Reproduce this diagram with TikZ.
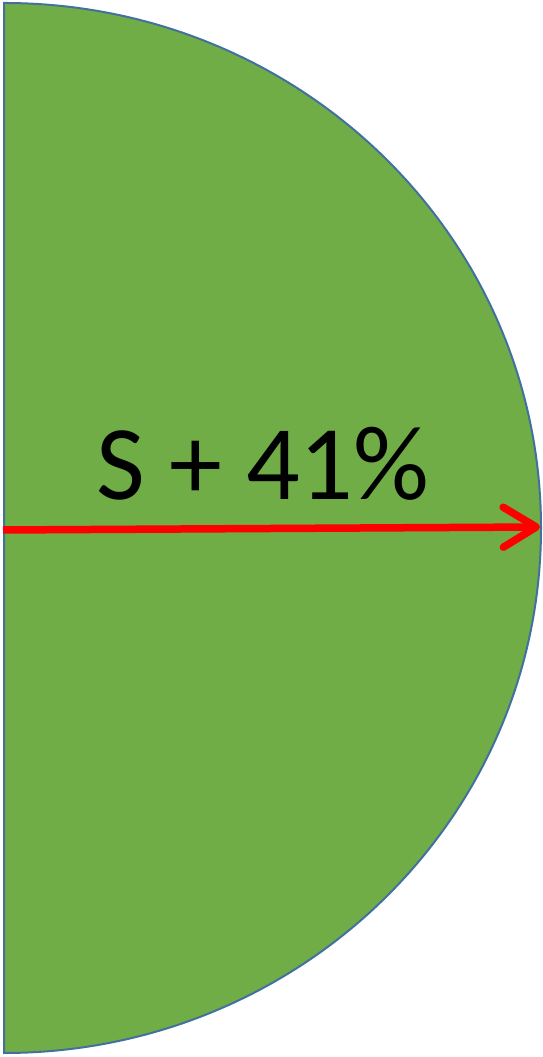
\documentclass[tikz,border=0pt]{standalone}
\usepackage{fontspec}
\setmainfont{Carlito}
\usetikzlibrary{arrows.meta}
\definecolor{halfgreen}{RGB}{112,173,71}
\definecolor{halfblue}{RGB}{65,113,156}
\definecolor{radred}{RGB}{255,0,0}
\tikzset{
  halfdisc/.style={draw=halfblue, line width=2pt, fill=halfgreen},
  radarrow/.style={-{Straight Barb[length=33pt, width=40pt, round]}, line width=7.5pt, radred},
  biglbl/.style={font=\fontsize{106}{120}\selectfont, text=black, inner sep=0pt, anchor=base}
}
\begin{document}
\begin{tikzpicture}[x=1pt, y=1pt]
\useasboundingbox (0,0) rectangle (543,1057);
% half disc
\draw[halfdisc] (4,1054) arc[start angle=90, end angle=-90, x radius=537, y radius=525] -- cycle;
% radius arrow
\coordinate (c) at (3,527);
\coordinate (r) at (540,530);
\draw[radarrow] (c) -- (r);
\node[biglbl] (s) at (263,557) {S + 41\%};
\end{tikzpicture}
\end{document}
